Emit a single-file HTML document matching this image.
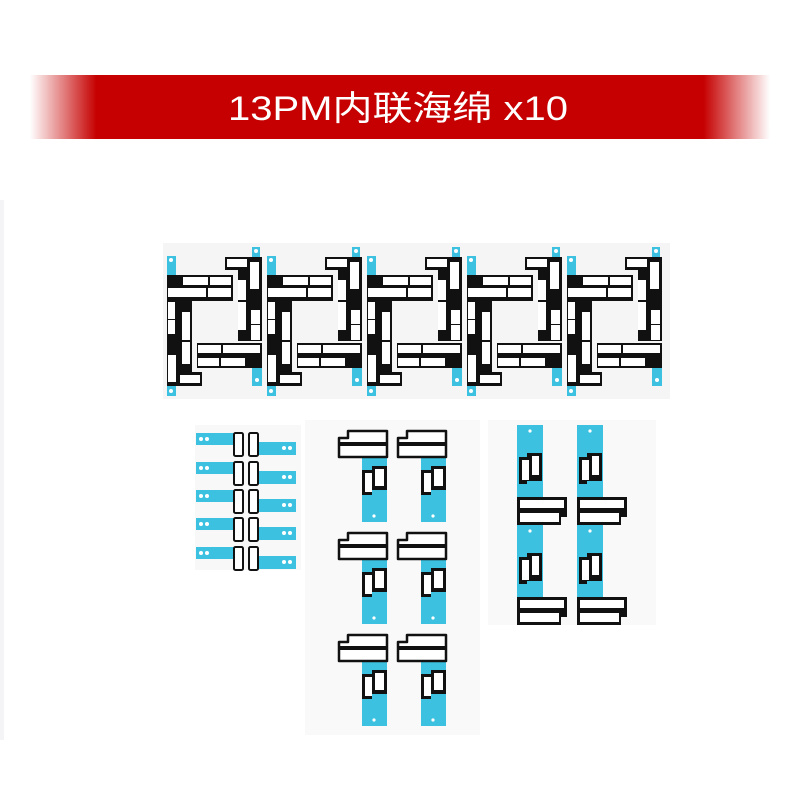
<!DOCTYPE html>
<html><head><meta charset="utf-8"><style>
html,body{margin:0;padding:0;background:#fff}
svg{display:block}
</style></head><body>
<svg width="800" height="800" viewBox="0 0 800 800" xmlns="http://www.w3.org/2000/svg">
<defs>
<linearGradient id="ban" x1="0" x2="1" y1="0" y2="0">
<stop offset="0" stop-color="#c60000" stop-opacity="0"/>
<stop offset="0.09" stop-color="#c60000" stop-opacity="1"/>
<stop offset="0.91" stop-color="#c60000" stop-opacity="1"/>
<stop offset="1" stop-color="#c60000" stop-opacity="0"/>
</linearGradient>
<g id="u">
<rect x="1" y="256" width="9" height="28" fill="#3cc2e0"/>
<rect x="86" y="247" width="8" height="14" fill="#3cc2e0"/>
<rect x="86" y="354" width="10" height="32" fill="#3cc2e0"/>
<rect x="1" y="384" width="9" height="12" fill="#3cc2e0"/>
<rect x="1" y="275" width="66" height="26" fill="#111"/>
<rect x="17" y="277" width="25" height="8" fill="#fff"/>
<rect x="44" y="277" width="21" height="8" fill="#fff"/>
<rect x="2" y="288" width="38" height="9" fill="#fff"/>
<rect x="42" y="288" width="23" height="9" fill="#fff"/>
<rect x="1" y="300" width="25" height="86" fill="#111"/>
<rect x="2" y="302" width="7" height="17" fill="#fff"/>
<rect x="2" y="320" width="7" height="14" fill="#fff"/>
<rect x="16" y="312" width="8" height="28" fill="#fff"/>
<rect x="16" y="342" width="8" height="22" fill="#fff"/>
<rect x="2" y="355" width="8" height="27" fill="#fff"/>
<rect x="11" y="372" width="25" height="14" fill="#111"/>
<rect x="14" y="375" width="20" height="8" fill="#fff"/>
<rect x="59" y="257" width="37" height="13" fill="#111"/>
<rect x="72" y="257" width="24" height="84" fill="#111"/>
<rect x="61" y="259" width="20" height="8" fill="#fff"/>
<rect x="84" y="262" width="9" height="27" fill="#fff"/>
<rect x="72" y="280" width="8" height="20" fill="#fff"/>
<rect x="72" y="302" width="8" height="28" fill="#fff"/>
<rect x="85" y="310" width="9" height="14" fill="#fff"/>
<rect x="85" y="325" width="9" height="15" fill="#fff"/>
<rect x="31" y="343" width="65" height="25" fill="#111"/>
<rect x="32" y="345" width="23" height="8" fill="#fff"/>
<rect x="57" y="345" width="37" height="8" fill="#fff"/>
<rect x="32" y="358" width="21" height="8" fill="#fff"/>
<rect x="55" y="358" width="24" height="8" fill="#fff"/>
<circle cx="5" cy="260" r="2" fill="#fff"/><circle cx="90" cy="251" r="2" fill="#fff"/>
<circle cx="91" cy="380" r="2" fill="#fff"/><circle cx="5" cy="391" r="2" fill="#fff"/>
</g>
<g id="s">
<rect x="0" y="0" width="40" height="12" fill="#3cc2e0"/>
<rect x="62" y="9" width="38" height="13" fill="#3cc2e0"/>
<circle cx="5" cy="6" r="2" fill="#fff"/><circle cx="11" cy="6" r="2" fill="#fff"/>
<circle cx="88" cy="15" r="2" fill="#fff"/><circle cx="94" cy="15" r="2" fill="#fff"/>
<rect x="38" y="0" width="9" height="23" rx="1.5" fill="#fff" stroke="#111" stroke-width="2"/>
<rect x="53" y="0" width="9" height="23" rx="1.5" fill="#fff" stroke="#111" stroke-width="2"/>
</g>
<g id="m">
<rect x="24" y="22" width="25" height="70" fill="#3cc2e0"/>
<path d="M1 8 L10 8 L10 1 L49 1 L49 27 L1 27 Z" fill="#fff" stroke="#111" stroke-width="2.5" stroke-linejoin="round"/>
<line x1="2" y1="14" x2="48" y2="14" stroke="#111" stroke-width="4"/>
<path d="M24 40 L34 40 L34 36 L49 36 L49 60 L34 60 L34 65 L24 65 Z" fill="#111"/>
<rect x="27" y="43" width="7" height="19" fill="#fff"/>
<rect x="37" y="39" width="9" height="17" fill="#fff"/>
<circle cx="36" cy="86" r="1.6" fill="#fff"/>
</g>
<g id="r">
<rect x="0" y="0" width="26" height="72" fill="#3cc2e0"/>
<circle cx="13" cy="6" r="1.6" fill="#fff"/>
<path d="M2 32 L10 32 L10 28 L25 28 L25 56 L10 56 L10 59 L2 59 Z" fill="#111"/>
<rect x="5" y="35" width="7" height="20" fill="#fff"/>
<rect x="15" y="31" width="7" height="19" fill="#fff"/>
<path d="M0 72 L50 72 L50 92 L44 92 L44 100 L0 100 Z" fill="#111"/>
<rect x="3" y="75" width="44" height="8" fill="#fff"/>
<rect x="3" y="88" width="39" height="9" fill="#fff"/>
</g>
</defs>
<rect x="0" y="0" width="800" height="800" fill="#fff"/>
<rect x="0" y="200" width="4" height="540" fill="#f4f4f6"/>
<rect x="30" y="75" width="740" height="64" fill="url(#ban)"/>
<text x="398" y="120" text-anchor="middle" font-family="'Liberation Sans','Noto Sans CJK SC',sans-serif" font-size="34" fill="#fff" textLength="340" lengthAdjust="spacingAndGlyphs">13PM内联海绵 x10</text>
<rect x="163" y="243" width="507" height="156" fill="#f5f5f5"/>
<rect x="195" y="425" width="106" height="145" fill="#f8f8f8"/>
<rect x="305" y="420" width="175" height="315" fill="#f9f9f9"/>
<rect x="488" y="420" width="168" height="205" fill="#f9f9f9"/>
<use href="#u" x="166"/><use href="#u" x="266"/><use href="#u" x="366"/><use href="#u" x="466"/><use href="#u" x="566"/>
<use href="#s" x="196" y="433"/><use href="#s" x="196" y="462"/><use href="#s" x="196" y="490"/><use href="#s" x="196" y="518"/><use href="#s" x="196" y="547"/>
<use href="#m" x="338" y="430"/><use href="#m" x="397" y="430"/>
<use href="#m" x="338" y="532"/><use href="#m" x="397" y="532"/>
<use href="#m" x="338" y="634"/><use href="#m" x="397" y="634"/>
<use href="#r" x="517" y="425"/><use href="#r" x="577" y="425"/>
<use href="#r" x="517" y="525"/><use href="#r" x="577" y="525"/>
</svg>
</body></html>
